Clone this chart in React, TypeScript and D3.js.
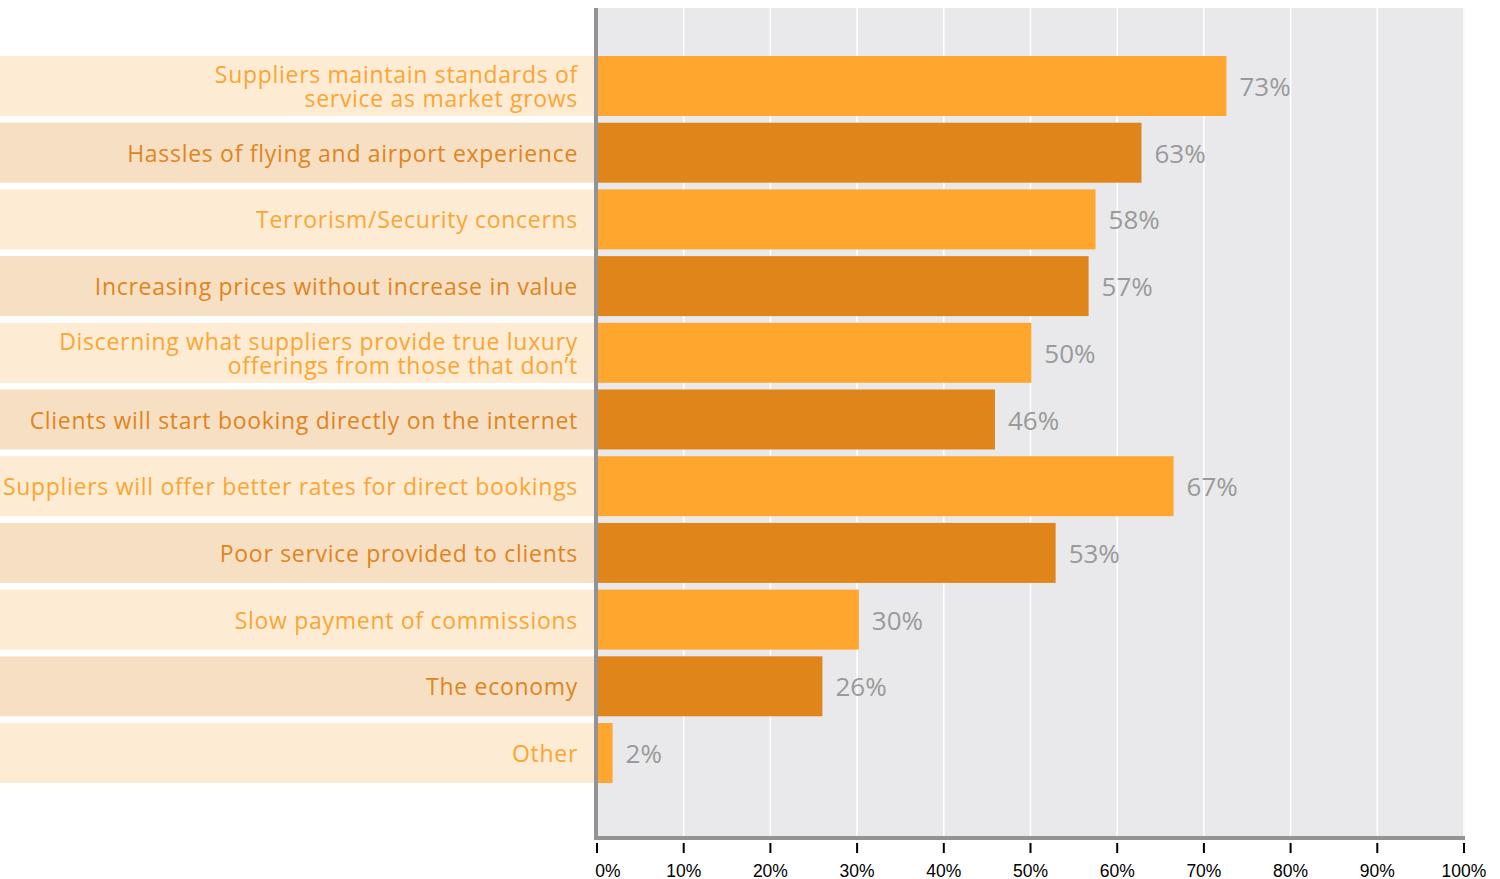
import React from "react";
import * as d3 from "d3";

const categories: string[][] = [
  ["Suppliers maintain standards of", "service as market grows"],
  ["Hassles of flying and airport experience"],
  ["Terrorism/Security concerns"],
  ["Increasing prices without increase in value"],
  ["Discerning what suppliers provide true luxury", "offerings from those that don’t"],
  ["Clients will start booking directly on the internet"],
  ["Suppliers will offer better rates for direct bookings"],
  ["Poor service provided to clients"],
  ["Slow payment of commissions"],
  ["The economy"],
  ["Other"],
];
const values: number[] = [72.6, 62.8, 57.5, 56.7, 50.1, 45.9, 66.5, 52.9, 30.2, 26.0, 1.8];
const valueLabels: string[] = ["73%", "63%", "58%", "57%", "50%", "46%", "67%", "53%", "30%", "26%", "2%"];
const ticks: number[] = [0, 10, 20, 30, 40, 50, 60, 70, 80, 90, 100];

const W = 1500;
const H = 879;

export default function App() {
  const x = d3.scaleLinear().domain([0, 100]).range([597, 1464]);
  const step = 66.7;
  const bw = 60;
  const y = d3
    .scaleLinear()
    .domain([0, categories.length])
    .range([56, 56 + step * categories.length]);

  const lightBg = "#FEEBD4";
  const darkBg = "#F7DFC4";
  const lightText = "#FBA532";
  const darkText = "#E0851C";
  const lightBar = "#FFA62E";
  const darkBar = "#E0851A";
  const labelFont = "'Open Sans', 'Noto Sans', sans-serif";

  return (
    <svg width={W} height={H} style={{ position: "absolute", left: 0, top: 0, background: "#fff" }}>
      <rect x={597} y={8} width={1465 - 597} height={838 - 8} fill="#E9E9EB" />
      {ticks.slice(1).map((t) => (
        <line key={"g" + t} x1={x(t)} x2={x(t)} y1={8} y2={836} stroke="#fff" strokeWidth={1.5} />
      ))}
      {categories.map((lines, i) => {
        const top = y(i);
        const dark = i % 2 === 1;
        const cy = top + bw / 2;
        return (
          <g key={i}>
            <rect x={0} y={top} width={594} height={bw} fill={dark ? darkBg : lightBg} />
            <rect x={x(0)} y={top} width={x(values[i]) - x(0)} height={bw} fill={dark ? darkBar : lightBar} />
            {lines.map((ln, j) => (
              <text
                key={j}
                x={578}
                y={cy + (j - (lines.length - 1) / 2) * 24 + 9}
                textAnchor="end"
                fontFamily={labelFont}
                fontSize={23}
                letterSpacing={0.7}
                fill={dark ? darkText : lightText}
              >
                {ln}
              </text>
            ))}
            <text
              x={x(values[i]) + 13}
              y={cy + 10}
              fontFamily={labelFont}
              fontSize={26}
              fill="#9A9A9A"
            >
              {valueLabels[i]}
            </text>
          </g>
        );
      })}
      <line x1={596} x2={596} y1={8} y2={840} stroke="#939395" strokeWidth={4} />
      <line x1={594} x2={1465} y1={838} y2={838} stroke="#939395" strokeWidth={4} />
      {ticks.map((t) => (
        <g key={"t" + t}>
          <line x1={x(t)} x2={x(t)} y1={843} y2={853} stroke="#000" strokeWidth={2} />
          <text
            x={x(t) + (t === 0 ? 11 : 0)}
            y={877}
            textAnchor="middle"
            fontFamily="'Liberation Sans Narrow', 'Liberation Sans', sans-serif"
            fontSize={17.5}
            fill="#000"
          >
            {t}%
          </text>
        </g>
      ))}
    </svg>
  );
}
